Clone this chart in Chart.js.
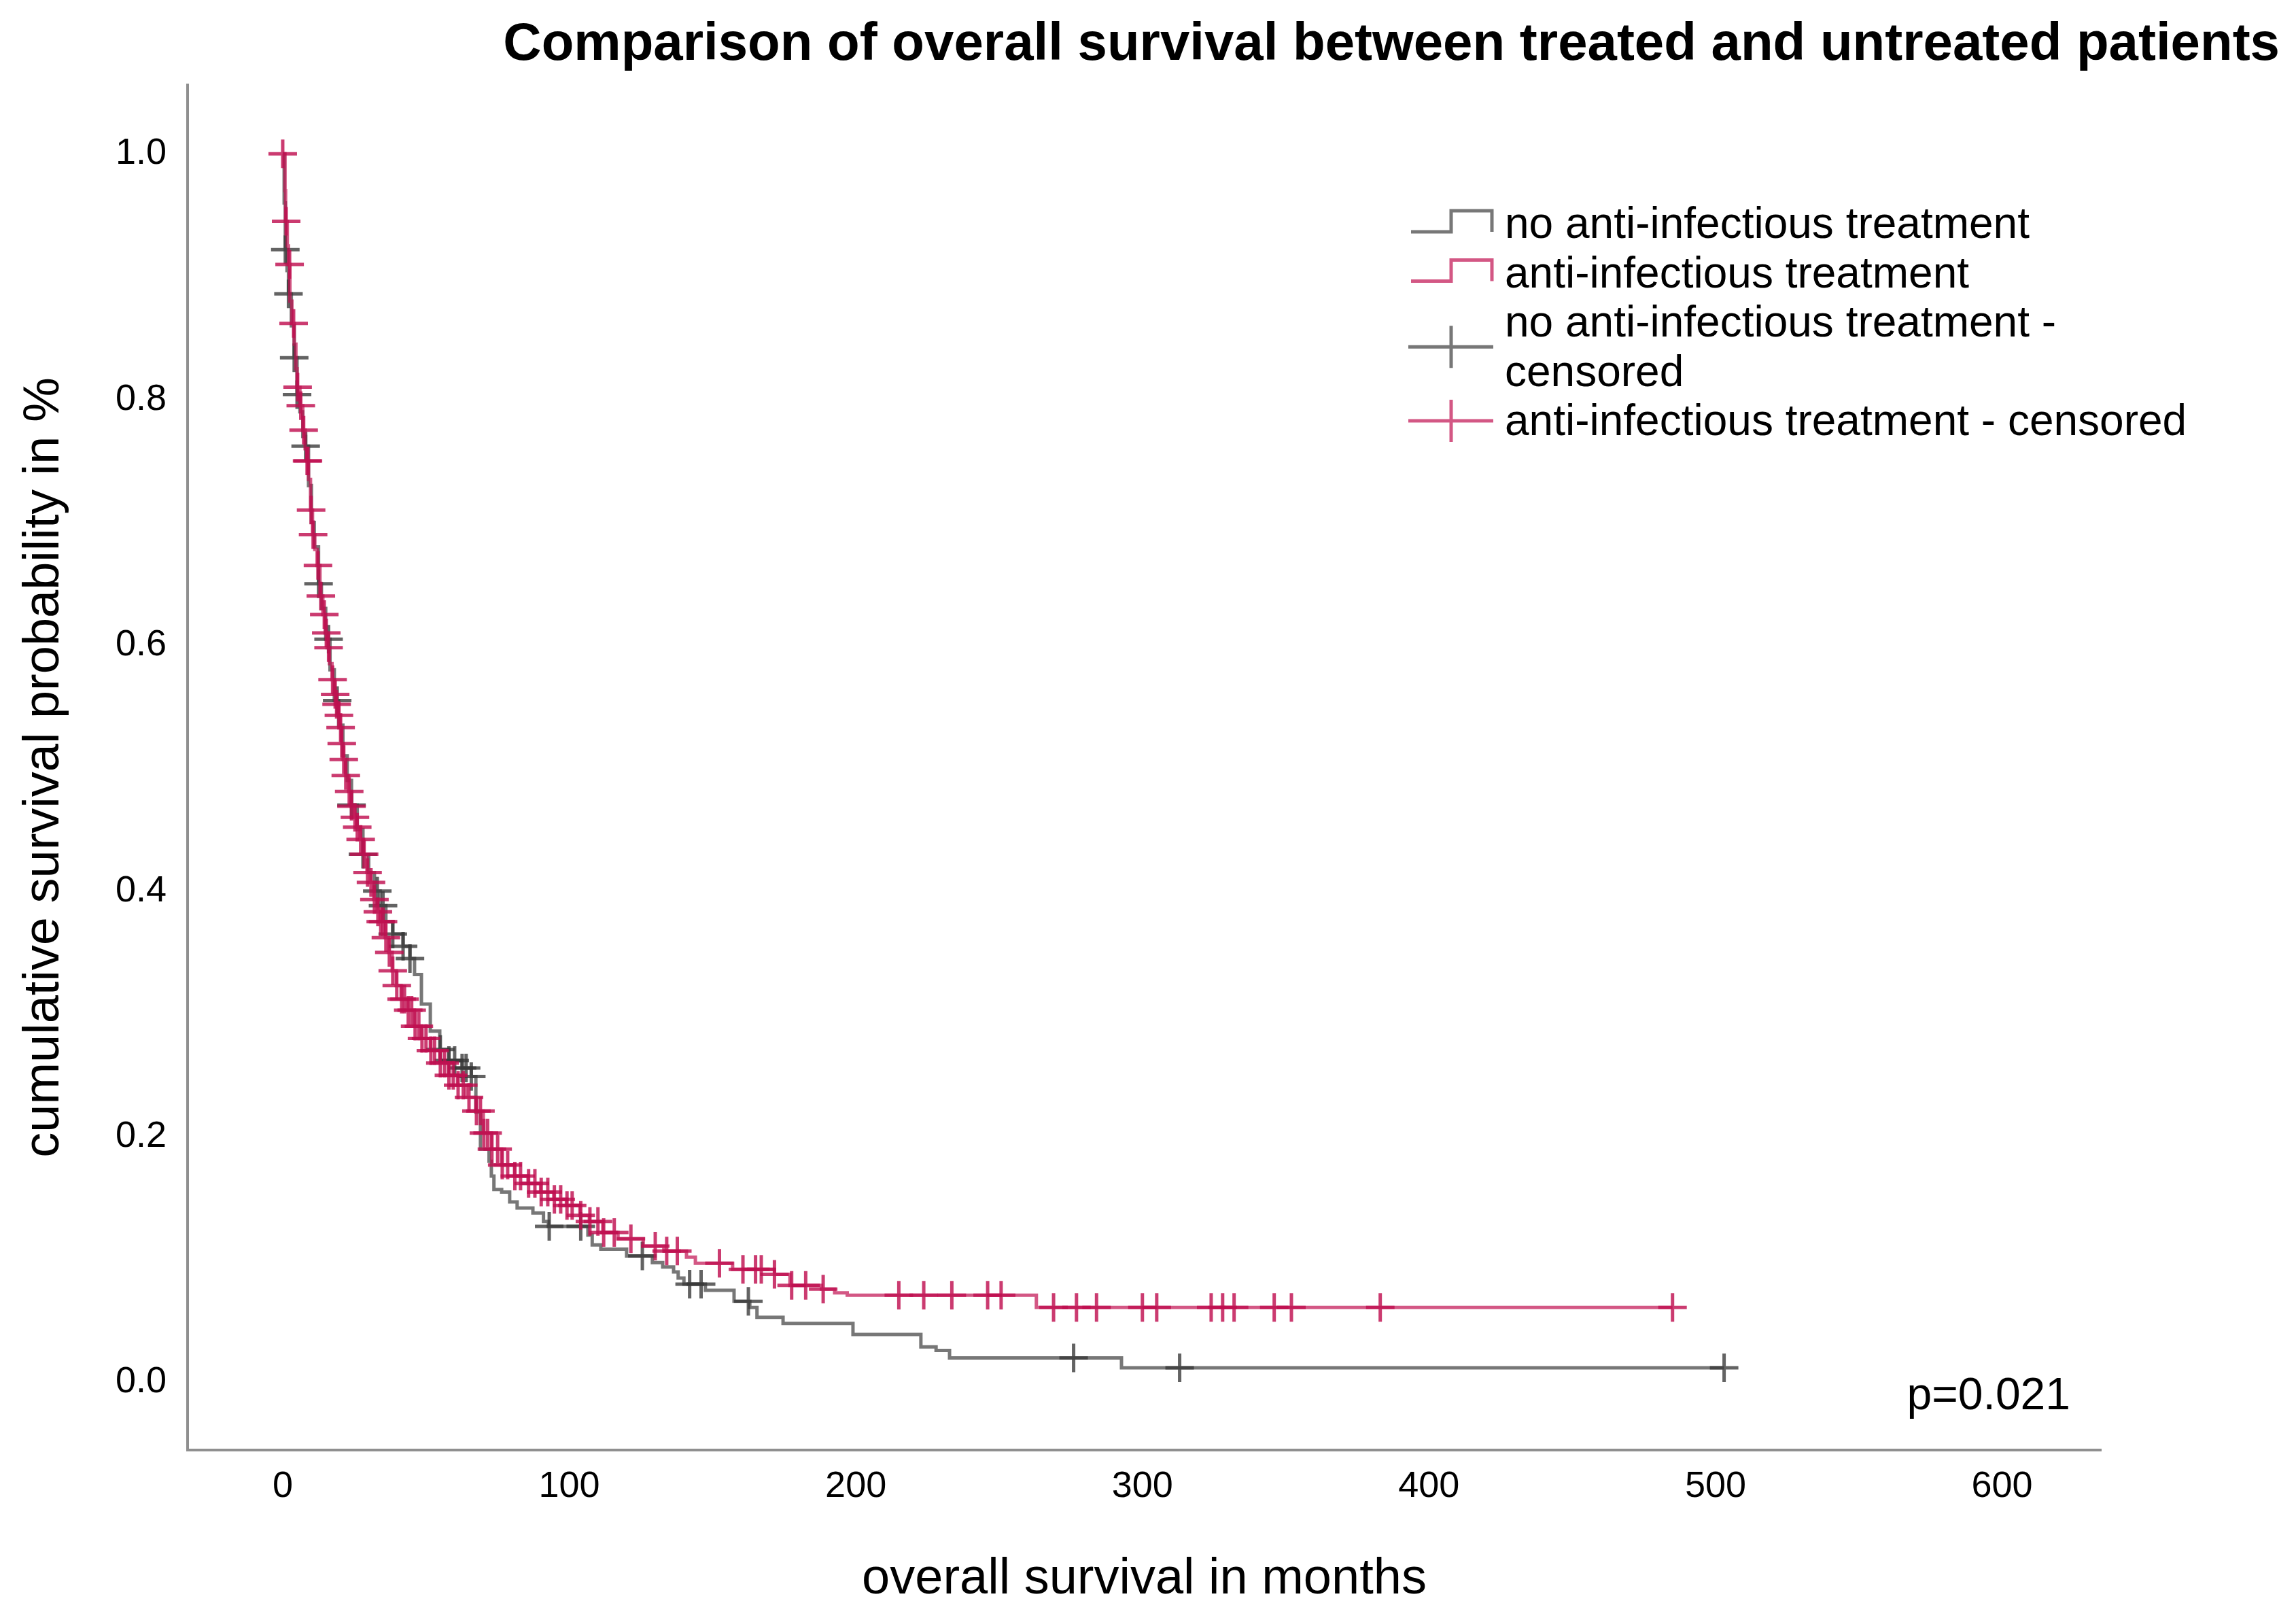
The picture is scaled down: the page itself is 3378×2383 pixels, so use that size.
<!DOCTYPE html>
<html>
<head>
<meta charset="utf-8">
<title>Overall survival</title>
<script src="https://cdn.jsdelivr.net/npm/chart.js@4.4.0/dist/chart.umd.min.js"></script>
<style>
html,body{margin:0;padding:0;background:#fff;}
#wrap{width:3378px;height:2383px;position:relative;}
</style>
</head>
<body>
<div id="wrap"><canvas id="kmChart"></canvas></div>
<script>
// labels, in legend order
const seriesLabels = [
    "no anti-infectious treatment",
    "anti-infectious treatment",
    "no anti-infectious treatment - censored",
    "anti-infectious treatment - censored"
];
const chartTitle = "Comparison of overall survival between treated and untreated patients";
const xTitle = "overall survival in months";
const yTitle = "cumulative survival probability in %";
const pValueText = "p=0.021";
const xTicks = [0,100,200,300,400,500,600];
const yTicks = [0,0.2,0.4,0.6,0.8,1.0];

// [months, survival]
const untreatedSteps = [[0,1],[0.5,0.96],[0.9,0.922],[1.5,0.905],[2,0.886],[3,0.86],[4,0.834],[5,0.804],[6,0.79],[7,0.77],[8,0.762],[9,0.73],[10,0.7],[11,0.68],[12.5,0.65],[13.5,0.63],[15,0.605],[16.5,0.58],[18,0.555],[19.5,0.535],[21,0.51],[22.5,0.49],[24,0.47],[26,0.45],[28,0.43],[30,0.415],[32,0.4],[34,0.388],[36,0.375],[38.4,0.365],[42,0.355],[44.4,0.345],[46,0.332],[48.4,0.308],[51.5,0.286],[54.8,0.271],[58,0.262],[62.6,0.256],[65.8,0.249],[67.4,0.22],[69,0.19],[72,0.18],[72.8,0.168],[73.7,0.157],[76.4,0.155],[79.2,0.147],[81.8,0.142],[87.3,0.138],[91,0.131],[92.7,0.127],[106.5,0.12],[108,0.112],[111,0.1085],[120,0.103],[129,0.0975],[132.6,0.094],[136.4,0.09],[138,0.085],[140,0.08],[147.5,0.075],[157.5,0.066],[163,0.061],[165.5,0.053],[174.6,0.048],[199,0.039],[222.7,0.029],[228,0.026],[232.7,0.02],[292.7,0.012],[503,0.012]];
const treatedSteps = [[0,1],[0.8,0.97],[1,0.945],[1.6,0.925],[2,0.91],[2.5,0.88],[3.2,0.862],[4,0.845],[4.6,0.825],[5,0.81],[6,0.795],[7,0.775],[7.8,0.76],[8.4,0.75],[9,0.735],[9.7,0.71],[10.4,0.69],[11.2,0.678],[12,0.665],[13,0.64],[14,0.625],[14.8,0.61],[15.5,0.598],[16.3,0.585],[17.2,0.572],[18,0.56],[18.7,0.552],[19.5,0.543],[20,0.533],[20.5,0.52],[21.1,0.507],[21.9,0.494],[23,0.481],[23.9,0.469],[25,0.46],[25.8,0.452],[27,0.442],[28.2,0.43],[29.4,0.415],[30.6,0.407],[31.8,0.393],[33,0.383],[34,0.375],[35.8,0.362],[37,0.35],[38.2,0.335],[39.6,0.323],[41.3,0.312],[43.6,0.303],[46,0.29],[48.4,0.28],[51.5,0.27],[54.8,0.26],[57.9,0.25],[61,0.242],[64,0.232],[67.4,0.221],[70,0.203],[72.8,0.19],[76.4,0.177],[80.9,0.168],[85.6,0.162],[90,0.155],[94.6,0.149],[99,0.144],[103.7,0.136],[107,0.131],[111.7,0.122],[117,0.117],[125.8,0.111],[133,0.107],[140.9,0.102],[144,0.097],[157,0.092],[171.6,0.088],[177,0.079],[188,0.076],[192.6,0.073],[197,0.071],[263,0.061],[485,0.061]];

// censoring times (months)
const untreatedCensored = [0.9,2,4,5,8,12.5,16,19,24,28,33,35,38.4,42,44.4,55,58,60,62.6,64,65.8,93,104,125.5,142,146,162.5,276,313,503];
const treatedCensored = [0,1.2,2.4,3.8,5.2,6.3,7.3,8.5,8.8,9.9,10.6,12.3,13.3,14.5,15.2,16,17.4,18.3,18.8,19.6,20.2,20.6,21.3,22,23.2,24,25.2,26,27.2,28.4,29.6,30.8,32,33.2,34.2,35,36,37.2,38.4,39.8,41.5,42.5,43.8,45,46.2,47.5,48.6,50,51.7,53,55,56.5,58,59.5,61.2,63,65,67.6,69,70.2,71.5,73,75,76.6,78.5,81,83,85.8,88,90.2,92.5,94.8,97,99.2,101,104,107.2,110,112,115.7,121.5,130,134,137.7,152.4,160.6,165,167,171.6,177.6,182.5,188.6,215,223.7,233.5,246,250.7,269,277,284,300,305,324,328,332,346,352,383,485];

const greyCol = "rgba(55,55,55,0.68)";
const pinkCol = "rgba(192,16,80,0.7)";
const greyMark = "rgba(55,55,55,0.78)";
const pinkMark = "rgba(192,16,80,0.82)";
const axisCol = "#8f8f8f";
const fontFam = "'Liberation Sans', Arial, sans-serif";

function survivalAt(steps,t){
    let s = steps[0][1];
    for(const [tt,v] of steps){
        if(tt<=t) s=v; else break;
    }
    return s;
}
const toPoints = steps => steps.map(p=>({x:p[0],y:p[1]}));
const censorPoints = (times,steps) => times.map(t=>({x:t,y:survivalAt(steps,t)}));

function wrapText(ctx,text,maxW){
    const words = text.split(" ");
    const lines = [];
    let cur = "";
    words.forEach(w=>{
        const test = cur ? cur+" "+w : w;
        if(ctx.measureText(test).width>maxW && cur){ lines.push(cur); cur=w; }
        else cur=test;
    });
    lines.push(cur);
    return lines;
}

// legend inside the plot, top right, with step / cross symbols
const kmLegend = {
    id:"kmLegend",
    afterDraw(chart){
        const ctx = chart.ctx;
        const ds = chart.data.datasets;
        const textX = 2214, iconL = 2076, iconM = 2135, iconR = 2195, lineGap = 72.5;
        let baseline = 350;
        ctx.save();
        ctx.font = "64px "+fontFam;
        ctx.textAlign = "left";
        ctx.textBaseline = "alphabetic";
        ds.forEach(d=>{
            const lines = wrapText(ctx,d.label,1040);
            ctx.strokeStyle = d.borderColor;
            ctx.lineWidth = 5;
            ctx.beginPath();
            if(d.showLine===false){
                const cy = baseline+(lines.length-1)*lineGap/2-21;
                ctx.moveTo(2072,cy); ctx.lineTo(2197,cy);
                ctx.moveTo(iconM,cy-31); ctx.lineTo(iconM,cy+31);
            }else{
                const bot = baseline-9, top = bot-31;
                ctx.moveTo(iconL,bot); ctx.lineTo(iconM,bot); ctx.lineTo(iconM,top);
                ctx.lineTo(iconR,top); ctx.lineTo(iconR,bot);
            }
            ctx.stroke();
            ctx.fillStyle = "#000";
            lines.forEach((l,i)=>ctx.fillText(l,textX,baseline+i*lineGap));
            baseline += lines.length*lineGap;
        });
        ctx.restore();
    }
};

const titleAndP = {
    id:"titleAndP",
    afterDraw(chart){
        const ctx = chart.ctx;
        ctx.save();
        ctx.fillStyle = "#000";
        ctx.textAlign = "right";
        ctx.textBaseline = "alphabetic";
        ctx.font = "bold 78px "+fontFam;
        ctx.fillText(chartTitle,3354,88);
        ctx.font = "66px "+fontFam;
        ctx.fillText(pValueText,3046,2073);
        ctx.restore();
    }
};

function renderSurvivalChart(){
    const ctx = document.getElementById("kmChart").getContext("2d");
    new Chart(ctx,{
        type:"line",
        data:{
            datasets:[
                {label:seriesLabels[0],data:toPoints(untreatedSteps),borderColor:greyCol,borderWidth:5,
                 stepped:"before",pointRadius:0,fill:false,order:3},
                {label:seriesLabels[1],data:toPoints(treatedSteps),borderColor:pinkCol,borderWidth:5,
                 stepped:"before",pointRadius:0,fill:false,order:1},
                {label:seriesLabels[2],data:censorPoints(untreatedCensored,untreatedSteps),showLine:false,
                 borderColor:greyCol,pointStyle:"cross",pointRadius:21,pointBorderWidth:5,pointBorderColor:greyMark,order:2},
                {label:seriesLabels[3],data:censorPoints(treatedCensored,treatedSteps),showLine:false,
                 borderColor:pinkCol,pointStyle:"cross",pointRadius:21,pointBorderWidth:5,pointBorderColor:pinkMark,order:0}
            ]
        },
        options:{
            responsive:true,
            maintainAspectRatio:false,
            devicePixelRatio:1,
            animation:false,
            layout:{padding:{top:125,right:287,left:0,bottom:0}},
            plugins:{legend:{display:false},tooltip:{enabled:false},title:{display:false}},
            scales:{
                x:{
                    type:"linear",min:-33.2,max:634.5,
                    afterBuildTicks:s=>{s.ticks=xTicks.map(v=>({value:v}));},
                    afterFit:s=>{s.height=250;},
                    grid:{display:false,drawTicks:false},
                    border:{display:true,color:axisCol,width:4},
                    ticks:{padding:22,color:"#000",font:{family:fontFam,size:54},callback:v=>String(v)},
                    title:{display:true,text:xTitle,color:"#000",font:{family:fontFam,size:74},padding:{top:0,bottom:15}}
                },
                y:{
                    type:"linear",min:-0.055,max:1.056,
                    afterBuildTicks:s=>{s.ticks=yTicks.map(v=>({value:v}));},
                    afterFit:s=>{s.width=276;},
                    grid:{display:false,drawTicks:false},
                    border:{display:true,color:axisCol,width:4},
                    ticks:{padding:31,color:"#000",font:{family:fontFam,size:54},callback:v=>v.toFixed(1)},
                    title:{display:true,text:yTitle,color:"#000",font:{family:fontFam,size:74},padding:{top:21,bottom:0}}
                }
            }
        },
        plugins:[kmLegend,titleAndP]
    });
}
renderSurvivalChart();
</script>
</body>
</html>
